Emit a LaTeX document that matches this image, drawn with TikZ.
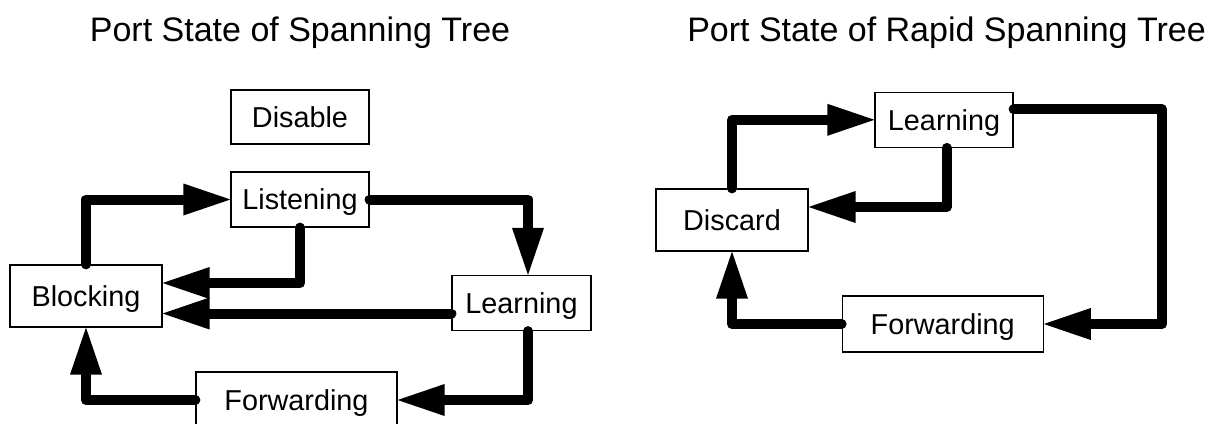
\documentclass[tikz,border=0pt]{standalone}
\usepackage{fontspec}
\setmainfont{Liberation Sans}
\usetikzlibrary{arrows.meta}
\begin{document}
\begin{tikzpicture}[x=1pt,y=-1pt,
  statebox/.style={draw=black,line width=1.2pt,fill=white,inner sep=0pt,
    font=\fontsize{28.8}{34}\selectfont,text height=20.6pt,text depth=0pt,
    minimum height=55pt},
  titletext/.style={font=\fontsize{34}{40}\selectfont,anchor=base,inner sep=0pt},
  flow/.style={line width=10pt,line cap=round,line join=round,
    -{Triangle[length=47pt,width=32pt,line width=0pt]}}
]
\useasboundingbox (0,0) rectangle (1212,423);
\clip (0,0) rectangle (1212,423);
\fill[white] (0,0) rectangle (1212,423);

% titles
\node[titletext] (t1) at (300,41) {Port State of Spanning Tree};
\node[titletext] (t2) at (946.5,41) {Port State of Rapid Spanning Tree};

% left diagram
\node[statebox,minimum width=138pt,minimum height=54pt] (Disable) at (300,117) {Disable};
\node[statebox,minimum width=138pt] (Listen) at (300,199.5) {Listening};
\node[statebox,minimum width=152pt,minimum height=62pt] (Block) at (86,296) {Blocking};
\node[statebox,minimum width=139pt] (LearnL) at (521.5,303) {Learning};
\node[statebox,minimum width=201pt,minimum height=56pt] (FwdL) at (296.5,400) {Forwarding};

\draw[flow] (Block.north) |- (Listen.west);
\draw[flow] (Listen.south) |- ([yshift=13pt]Block.east);
\draw[flow] ([yshift=-10.5pt]LearnL.west) -- ([yshift=-10.5pt]LearnL.west -| Block.east);
\draw[flow] (Listen.east) -| ([xshift=6.5pt]LearnL.north);
\draw[flow] ([xshift=6.5pt]LearnL.south) |- (FwdL.east);
\draw[flow] (FwdL.west) -| (Block.south);

% right diagram
\node[statebox,minimum width=152pt,minimum height=62pt] (Discard) at (732,220) {Discard};
\node[statebox,minimum width=138pt] (LearnR) at (944,119.8) {Learning};
\node[statebox,minimum width=201pt,minimum height=56pt] (FwdR) at (942.7,324) {Forwarding};
\coordinate (rc) at (1162,0);

\draw[flow] (Discard.north) |- (LearnR.west);
\draw[flow] ([xshift=2.7pt]LearnR.south) |- ([yshift=13pt]Discard.east);
\draw[flow] ([yshift=10.5pt]LearnR.east) -| (rc |- FwdR.east) -- (FwdR.east);
\draw[flow] (FwdR.west) -| (Discard.south);
\end{tikzpicture}
\end{document}
